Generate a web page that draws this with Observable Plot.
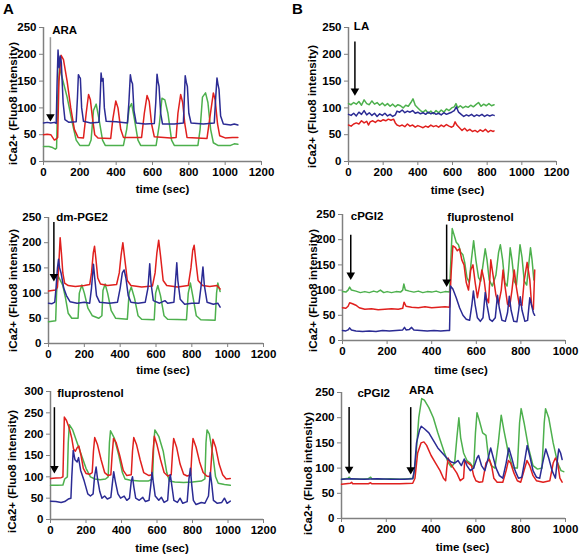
<!DOCTYPE html>
<html><head><meta charset="utf-8">
<script src="https://cdn.jsdelivr.net/npm/d3@7"></script>
<script src="https://cdn.jsdelivr.net/npm/@observablehq/plot@0.6"></script>
<style>
body{margin:0;background:#fff}
#fig{position:relative;width:579px;height:555px;overflow:hidden;font-family:"Liberation Sans",Arial,sans-serif;background:#fff}
.tile{position:absolute}
.plabel{position:absolute;font-weight:bold;font-size:15px;line-height:15px}
</style></head>
<body><div id="fig"><div class="plabel" style="left:3px;top:1px">A</div><div class="plabel" style="left:292px;top:1px">B</div></div>
<script>
const RED = "#e0201e", BLUE = "#2b2b94", GREEN = "#4db04d";
const yTitle = "iCa2+ (Fluo8 intensity)";
const xTitle = "time (sec)";
const ticks250 = [0, 50, 100, 150, 200, 250];
const ticks300 = [0, 50, 100, 150, 200, 250, 300];
const ticks1200 = [0, 200, 400, 600, 800, 1000, 1200];
const ticks1000 = [0, 200, 400, 600, 800, 1000];

// ---------- Panel A1 : ARA ----------
const a1Blue = [[0,72],[20,73],[40,72],[60,73],[70,71],[75,150],[80,208],[86,175],[92,197],[98,185],[108,110],[118,78],[140,73],[180,74],[187,120],[192,162],[198,158],[203,155],[210,100],[220,75],[260,72],[305,73],[311,110],[317,165],[322,150],[328,155],[335,100],[345,75],[400,74],[462,72],[470,110],[478,162],[484,150],[490,145],[498,95],[510,72],[560,70],[610,71],[618,110],[625,163],[630,150],[636,140],[645,90],[655,70],[720,70],[770,72],[775,115],[780,160],[786,148],[792,140],[800,90],[812,72],[880,70],[940,72],[948,120],[955,156],[960,145],[966,135],[975,85],[990,70],[1030,68],[1050,70],[1070,68]];
const a1Red = [[0,50],[20,51],[40,50],[50,45],[60,40],[70,42],[78,45],[85,150],[97,198],[110,190],[130,150],[150,100],[170,60],[190,45],[220,44],[235,90],[248,125],[258,115],[270,80],[282,50],[300,44],[370,43],[382,80],[398,113],[410,100],[425,60],[440,45],[540,45],[555,90],[570,123],[582,112],[595,70],[610,46],[700,44],[730,45],[740,90],[755,125],[766,110],[778,70],[790,45],[900,43],[915,80],[935,128],[945,115],[958,70],[970,48],[1000,44],[1040,45],[1070,45]];
const a1Green = [[0,28],[30,28],[50,26],[65,23],[72,25],[78,120],[88,175],[100,160],[130,120],[160,70],[180,40],[200,30],[250,30],[262,40],[275,95],[290,107],[305,80],[325,40],[340,30],[440,30],[458,60],[472,100],[485,108],[500,80],[520,40],[535,30],[620,30],[638,70],[652,118],[668,115],[685,90],[705,40],[720,30],[850,30],[862,60],[875,120],[892,128],[905,110],[920,60],[935,35],[960,30],[1030,30],[1050,33],[1070,32]];
const a1Arrows = [[38,231,80,"#999"]];
const a1Labels = [[48,238,"ARA"]];

// ---------- Panel B1 : LA ----------
const b1Green = [[0,108],[15,106],[30,110],[45,107],[60,112],[75,105],[90,115],[105,108],[120,106],[135,113],[150,107],[165,110],[180,105],[195,109],[210,104],[225,108],[240,103],[255,107],[270,102],[285,106],[300,104],[315,100],[330,105],[345,103],[360,110],[372,117],[385,105],[400,100],[415,95],[430,92],[445,96],[460,90],[475,94],[490,89],[505,95],[520,91],[535,96],[550,92],[565,98],[580,95],[595,100],[610,102],[620,108],[630,100],[645,104],[660,100],[675,103],[690,101],[705,105],[720,102],[735,106],[750,110],[765,103],[780,107],[795,104],[810,108],[825,104],[840,106]];
const b1Blue = [[0,88],[15,86],[30,90],[45,85],[60,92],[75,88],[90,95],[105,87],[120,91],[135,86],[150,90],[165,84],[180,89],[195,86],[210,90],[225,85],[240,88],[255,84],[270,87],[280,94],[295,92],[310,96],[325,91],[340,94],[355,92],[370,95],[385,90],[400,92],[415,89],[430,91],[445,88],[460,92],[475,89],[490,91],[505,88],[520,90],[535,87],[550,91],[565,88],[580,90],[595,92],[610,95],[622,102],[635,92],[650,88],[665,84],[680,87],[695,85],[710,88],[725,84],[740,87],[755,85],[770,88],[785,84],[800,87],[815,85],[830,87],[840,86]];
const b1Red = [[0,68],[15,66],[30,70],[45,72],[60,70],[75,76],[90,72],[105,75],[115,68],[125,74],[140,76],[155,73],[170,77],[185,75],[200,78],[215,76],[230,79],[245,77],[260,79],[270,72],[280,68],[295,66],[310,68],[325,65],[340,70],[355,66],[370,68],[385,64],[400,67],[415,65],[430,63],[445,66],[460,64],[475,68],[490,65],[505,67],[520,64],[535,68],[550,65],[565,69],[580,66],[595,64],[605,66],[615,74],[625,68],[640,63],[655,58],[670,62],[685,57],[700,60],[715,56],[730,58],[745,55],[760,59],[775,56],[790,60],[805,55],[820,58],[835,56],[840,57]];
const b1Arrows = [[37,223,128,"#000"]];
const b1Labels = [[31,246,"LA"]];

// ---------- Panel A2 : dm-PGE2 ----------
const a2Blue = [[0,80],[20,79],[35,82],[42,110],[50,150],[56,167],[62,150],[70,140],[85,110],[100,95],[120,83],[160,80],[200,82],[230,80],[240,110],[251,157],[258,130],[268,95],[285,82],[340,80],[385,82],[400,110],[412,140],[422,146],[432,130],[445,95],[460,82],[500,80],[540,82],[555,110],[565,158],[572,120],[585,85],[620,80],[650,85],[665,80],[700,82],[708,120],[716,160],[722,125],[735,88],[760,78],[800,80],[840,80],[852,115],[862,152],[870,115],[885,82],[920,78],[945,80],[958,72]];
const a2Red = [[0,104],[20,105],[40,106],[50,112],[58,160],[65,210],[72,180],[80,140],[90,120],[110,115],[150,113],[200,115],[230,117],[240,140],[250,180],[257,193],[264,170],[275,130],[290,118],[330,115],[380,117],[395,140],[405,175],[415,200],[425,170],[440,125],[460,115],[520,112],[580,114],[595,140],[605,180],[615,205],[625,175],[640,125],[660,115],[720,112],[780,115],[795,150],[805,185],[813,195],[822,165],[835,125],[860,115],[900,113],[940,115],[958,108]];
const a2Green = [[0,43],[20,44],[40,45],[45,100],[52,135],[65,126],[80,115],[95,90],[110,60],[130,50],[165,50],[172,100],[186,116],[200,100],[220,70],[245,55],[280,50],[298,55],[304,105],[316,118],[330,100],[350,65],[375,50],[440,48],[450,100],[462,112],[480,90],[500,55],[520,48],[590,47],[598,100],[610,115],[625,95],[645,55],[665,48],[770,47],[780,100],[792,120],[805,95],[825,55],[850,47],[930,46],[938,100],[945,120],[952,110],[958,103]];
const a2Arrows = [[30,240,129,"#000"]];
const a2Labels = [[43,244,"dm-PGE2"]];

// ---------- Panel B2 : cPGI2 then fluprostenol ----------
const b2Green = [[0,97],[15,96],[25,100],[32,106],[40,100],[60,98],[80,95],[100,97],[120,95],[140,98],[155,96],[170,100],[185,95],[200,97],[220,95],[240,97],[260,96],[270,100],[275,112],[282,100],[300,98],[320,96],[340,98],[360,95],[380,97],[400,96],[420,98],[440,95],[460,97],[480,96],[485,150],[492,222],[500,210],[510,195],[520,190],[530,175],[540,170],[548,155],[558,125],[568,115],[578,160],[588,198],[598,160],[610,125],[620,118],[630,150],[640,182],[648,160],[658,120],[672,108],[688,130],[700,175],[708,190],[718,160],[728,115],[738,108],[745,140],[752,184],[760,160],[770,118],[780,110],[788,150],[796,190],[805,165],[815,118],[826,110],[835,150],[843,184],[850,160],[858,120]];
const b2Red = [[0,65],[15,64],[25,68],[32,75],[45,73],[60,70],[75,65],[100,62],[130,63],[160,61],[190,62],[220,63],[250,62],[270,64],[276,76],[285,68],[310,66],[340,65],[370,67],[400,65],[430,66],[460,67],[480,66],[488,140],[495,188],[505,185],[515,178],[525,182],[535,160],[545,150],[555,115],[565,100],[575,140],[585,150],[595,115],[605,85],[615,110],[625,140],[635,120],[645,85],[655,75],[665,160],[675,130],[688,90],[700,72],[712,100],[720,140],[728,110],[740,72],[750,68],[760,100],[770,140],[780,105],[792,72],[805,70],[815,120],[828,155],[840,120],[848,70],[856,62],[862,140]];
const b2Blue = [[0,20],[15,19],[25,21],[32,25],[40,21],[60,19],[90,18],[120,19],[150,18],[180,20],[210,19],[240,20],[270,21],[278,26],[285,21],[300,22],[310,26],[320,21],[350,20],[380,19],[410,20],[440,19],[470,20],[480,20],[484,108],[495,102],[510,85],[525,65],[540,50],[555,42],[570,40],[580,70],[587,98],[595,70],[605,45],[618,38],[630,45],[640,95],[648,70],[660,42],[672,38],[685,45],[695,90],[703,65],[715,40],[730,38],[740,55],[748,88],[756,60],[768,38],[782,37],[790,60],[797,87],[805,60],[818,38],[830,40],[840,85],[848,70],[856,55],[862,50]];
const b2Arrows = [[37,209,126,"#000"],[467,229,112,"#000"]];
const b2Labels = [[37,239,"cPGI2"],[470,237,"fluprostenol"]];

// ---------- Panel A3 : fluprostenol ----------
const a3Red = [[0,96],[30,97],[60,98],[70,100],[74,170],[78,240],[90,232],[105,215],[120,190],[130,165],[140,160],[150,168],[160,172],[172,150],[185,120],[200,108],[220,106],[235,110],[242,160],[249,192],[265,175],[285,140],[305,110],[325,103],[340,105],[347,150],[355,190],[370,180],[390,150],[410,115],[430,103],[455,105],[462,160],[469,192],[485,175],[505,140],[525,110],[555,103],[570,105],[578,160],[585,195],[600,175],[620,140],[640,110],[660,102],[680,105],[688,160],[694,190],[710,170],[730,130],[750,106],[770,102],[790,105],[797,160],[803,190],[820,170],[840,135],[860,110],[880,102],[900,100],[908,150],[915,188],[930,170],[950,130],[970,105],[990,95],[1013,96]];
const a3Green = [[0,80],[40,80],[70,81],[80,95],[95,100],[100,180],[106,222],[125,210],[150,180],[175,150],[200,120],[225,100],[250,95],[280,93],[310,95],[325,100],[332,180],[338,208],[360,190],[385,150],[405,110],[420,95],[450,92],[500,90],[550,90],[575,95],[582,180],[588,210],[610,195],[635,160],[655,110],[670,90],[700,88],[750,87],[800,88],[850,90],[870,95],[876,180],[882,210],[895,200],[915,150],[930,100],[945,85],[980,82],[1013,80]];
const a3Blue = [[0,43],[30,42],[60,40],[80,42],[100,48],[115,50],[120,100],[128,162],[138,140],[150,135],[158,145],[170,115],[190,90],[210,60],[225,55],[240,60],[248,100],[257,123],[265,95],[278,65],[290,50],[305,55],[320,48],[340,52],[350,90],[356,112],[365,90],[380,60],[395,50],[415,55],[430,45],[445,50],[455,90],[462,100],[470,75],[480,50],[500,45],[520,52],[535,42],[555,45],[565,80],[572,110],[580,85],[590,55],[610,45],[625,52],[640,40],[660,45],[668,90],[675,105],[685,75],[695,45],[715,40],[730,50],[745,38],[770,42],[780,95],[788,120],[796,80],[805,45],[820,35],[850,40],[870,38],[890,55],[900,110],[908,85],[918,45],[940,38],[965,40],[980,50],[995,38],[1013,43]];
const a3Arrows = [[22,262,115,"#000"]];
const a3Labels = [[38,288,"fluprostenol"]];

// ---------- Panel B3 : cPGI2 then ARA ----------
const b3Green = [[0,78],[30,80],[35,82],[40,79],[80,78],[120,79],[130,82],[135,79],[180,78],[220,79],[260,78],[300,79],[320,80],[330,110],[345,200],[358,238],[370,235],[390,220],[410,200],[430,170],[445,150],[460,130],[475,112],[490,102],[505,110],[515,160],[524,200],[532,160],[545,130],[560,115],[575,110],[590,100],[598,170],[605,210],[615,195],[630,170],[645,165],[655,125],[668,105],[685,100],[700,150],[713,205],[725,175],[745,130],[765,100],[785,100],[795,190],[802,218],[815,190],[835,140],[855,105],[875,98],[895,100],[905,190],[911,218],[925,200],[945,150],[965,110],[980,95],[992,93]];
const b3Red = [[0,68],[40,70],[45,72],[50,69],[120,69],[130,71],[135,69],[200,69],[260,69],[318,70],[328,80],[340,130],[355,150],[368,152],[380,145],[400,125],[420,110],[440,95],[455,80],[465,75],[470,100],[476,120],[485,110],[500,100],[515,90],[530,75],[545,80],[550,115],[560,112],[580,105],[590,85],[600,75],[615,72],[630,73],[645,110],[660,117],[670,105],[680,80],[695,72],[720,72],[735,95],[745,115],[755,110],[770,90],[785,75],[800,72],[815,95],[828,115],[840,105],[855,85],[870,75],[900,72],[930,75],[945,110],[955,120],[965,110],[975,80],[985,72]];
const b3Blue = [[0,78],[40,79],[100,78],[160,79],[220,78],[280,78],[318,79],[325,95],[335,150],[348,175],[356,183],[370,178],[390,170],[410,155],[430,140],[450,130],[470,120],[490,112],[505,110],[520,115],[535,105],[548,118],[560,105],[575,95],[590,100],[605,120],[612,125],[625,105],[640,95],[655,120],[666,140],[675,125],[690,100],[705,85],[720,80],[735,110],[747,140],[760,120],[775,95],[790,80],[805,82],[818,115],[829,145],[840,125],[855,95],[870,82],[885,80],[898,110],[912,138],[925,120],[940,95],[955,80],[962,110],[970,138],[978,130],[985,117]];
const b3Arrows = [[34,220,94,"#000"],[309,220,93,"#000"]];
const b3Labels = [[71,241,"cPGI2"],[301,247,"ARA"]];

const FONT = '"Liberation Sans", Arial, sans-serif';

function panel(cfg) {
  const marks = [
    Plot.ruleX([0], {stroke: "#808080", strokeWidth: 1.5}),
    Plot.ruleY([0], {stroke: "#808080", strokeWidth: 1.5}),
    Plot.axisX({anchor: "bottom", ticks: cfg.xticks, tickFormat: d => String(d), tickSize: 4, tickPadding: 2, stroke: "#808080", fill: "#000", fontSize: 11.5, fontWeight: "bold", label: null}),
    Plot.axisY({anchor: "left", ticks: cfg.yticks, tickFormat: d => String(d), tickSize: 4, tickPadding: 3, stroke: "#808080", fill: "#000", fontSize: 11.5, fontWeight: "bold", label: null}),
    Plot.text([xTitle], {frameAnchor: "bottom", textAnchor: "middle", lineAnchor: "middle", dx: cfg.xdx, dy: cfg.xdy, fontSize: 11.5, fontWeight: "bold", fill: "#000"}),
    Plot.text([yTitle], {frameAnchor: "left", textAnchor: "middle", lineAnchor: "middle", rotate: -90, dx: cfg.ydx, dy: cfg.ydy, fontSize: 11.5, fontWeight: "bold", fill: "#000"})
  ];
  for (const [pts, color] of cfg.series) {
    marks.push(Plot.line(pts, {x: d => d[0], y: d => d[1], stroke: color, strokeWidth: 1.5}));
  }
  marks.push(Plot.ruleX(cfg.arrows, {x: d => d[0], y1: d => d[1], y2: d => d[2], stroke: d => d[3], strokeWidth: 1.5}));
  marks.push(Plot.dot(cfg.arrows, {x: d => d[0], y: d => d[2], symbol: "triangle", rotate: 180, r: 3.2, fill: "#000", stroke: null, dy: -2}));
  marks.push(Plot.text(cfg.labels, {x: d => d[0], y: d => d[1], text: d => d[2], textAnchor: "start", lineAnchor: "bottom", fontSize: 11.5, fontWeight: "bold", fill: "#000"}));
  const svg = Plot.plot({
    width: cfg.w, height: cfg.h,
    marginLeft: cfg.ml, marginRight: cfg.mr, marginTop: cfg.mt, marginBottom: cfg.mb,
    x: {domain: [0, cfg.xmax]},
    y: {domain: [0, cfg.ymax]},
    style: {fontFamily: FONT, background: "transparent", overflow: "visible", color: "#000"},
    marks
  });
  svg.classList.add("tile");
  svg.style.left = cfg.left + "px";
  svg.style.top = cfg.top + "px";
  svg.style.maxWidth = "none";
  document.getElementById("fig").appendChild(svg);
}

panel({left: 0, top: 0, w: 290, h: 200, ml: 43, mr: 29, mt: 27, mb: 39, xmax: 1200, ymax: 250, xticks: ticks1200, yticks: ticks250,
  series: [[a1Green, GREEN], [a1Red, RED], [a1Blue, BLUE]], arrows: a1Arrows, labels: a1Labels, xdx: 10, xdy: 28, ydx: -30, ydy: 9});
panel({left: 290, top: 0, w: 289, h: 200, ml: 58, mr: 23, mt: 27, mb: 39, xmax: 1200, ymax: 250, xticks: ticks1200, yticks: ticks250,
  series: [[b1Green, GREEN], [b1Red, RED], [b1Blue, BLUE]], arrows: b1Arrows, labels: b1Labels, xdx: 5, xdy: 29, ydx: -36, ydy: 12});
panel({left: 0, top: 185, w: 290, h: 200, ml: 48, mr: 27, mt: 32, mb: 42, xmax: 1200, ymax: 250, xticks: ticks1200, yticks: ticks250,
  series: [[a2Green, GREEN], [a2Red, RED], [a2Blue, BLUE]], arrows: a2Arrows, labels: a2Labels, xdx: 7, xdy: 27, ydx: -35, ydy: 10});
panel({left: 290, top: 185, w: 289, h: 200, ml: 52, mr: 14, mt: 29, mb: 45, xmax: 1000, ymax: 250, xticks: ticks1000, yticks: ticks250,
  series: [[b2Green, GREEN], [b2Red, RED], [b2Blue, BLUE]], arrows: b2Arrows, labels: b2Labels, xdx: 7, xdy: 30, ydx: -29, ydy: 13});
panel({left: 0, top: 370, w: 290, h: 185, ml: 50, mr: 27, mt: 21, mb: 36, xmax: 1200, ymax: 300, xticks: ticks1200, yticks: ticks300,
  series: [[a3Green, GREEN], [a3Red, RED], [a3Blue, BLUE]], arrows: a3Arrows, labels: a3Labels, xdx: 5, xdy: 29, ydx: -38, ydy: 16});
panel({left: 290, top: 370, w: 289, h: 185, ml: 51, mr: 14, mt: 22, mb: 37, xmax: 1000, ymax: 250, xticks: ticks1000, yticks: ticks250,
  series: [[b3Green, GREEN], [b3Red, RED], [b3Blue, BLUE]], arrows: b3Arrows, labels: b3Labels, xdx: 9, xdy: 29, ydx: -33, ydy: 18});
</script></body></html>
